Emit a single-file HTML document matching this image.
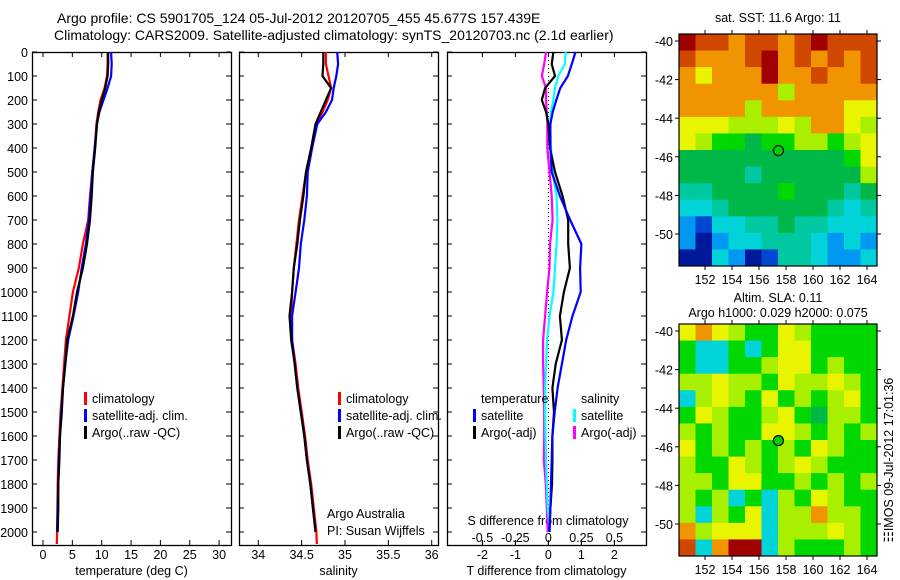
<!DOCTYPE html>
<html><head><meta charset="utf-8"><style>
body{margin:0;background:#fff;width:900px;height:580px;overflow:hidden}
svg{display:block;font-family:"Liberation Sans",sans-serif}
text{font-size:12.5px;fill:#000}
</style></head><body>
<svg id="s" width="900" height="580" xmlns="http://www.w3.org/2000/svg">
<text x="57" y="23" text-anchor="start" style="font-size:14px">Argo profile: CS 5901705_124 05-Jul-2012 20120705_455 45.677S 157.439E</text>
<text x="54" y="40" text-anchor="start" style="font-size:14px">Climatology: CARS2009. Satellite-adjusted climatology: synTS_20120703.nc (2.1d earlier)</text>
<g id="g"></g>
</svg>
<script>
const depths=[0,50,100,150,200,250,300,400,500,600,700,800,900,1000,1100,1200,1300,1400,1500,1600,1700,1800,1900,2000,2050];
const tempArgo=[11.1,11.1,11.0,10.6,10.0,9.5,9.2,8.9,8.5,8.3,8.0,7.5,6.8,5.8,5.1,4.1,3.8,3.4,3.2,2.9,2.8,2.6,2.6,2.5,null];
const tempClim=[11.0,11.0,10.9,10.5,9.8,9.4,9.1,8.8,8.4,8.0,7.7,6.8,6.1,5.1,4.5,3.9,3.6,3.3,3.0,2.8,2.6,2.5,2.45,2.4,2.35];
const tempSat=[11.6,11.7,11.6,11.0,10.3,9.6,9.2,8.8,8.4,8.1,7.8,7.3,6.6,6.0,5.2,4.3,3.8,3.4,3.1,2.9,2.7,2.6,2.5,2.4,null];
const salArgo=[34.75,34.75,34.74,34.84,34.78,34.72,34.66,34.61,34.55,34.52,34.48,34.45,34.41,34.39,34.36,34.38,34.42,34.45,34.49,34.53,34.56,34.60,34.63,34.66,null];
const salClim=[34.78,34.78,34.81,34.84,34.80,34.74,34.67,34.61,34.55,34.51,34.47,34.44,34.41,34.39,34.38,34.39,34.43,34.46,34.50,34.54,34.57,34.61,34.64,34.67,34.675];
const salSat=[34.91,34.92,34.90,34.87,34.85,34.78,34.68,34.62,34.57,34.56,34.53,34.49,34.47,34.43,34.39,34.39,34.42,34.45,34.49,34.53,34.56,34.60,34.63,34.66,null];
const dTsat=[0.82,0.71,0.59,0.36,0.24,0.13,0.06,0.06,0.1,0.35,0.66,1.0,0.96,0.98,0.73,0.54,0.41,0.28,0.19,0.12,0.1,0.08,0.06,0.03,null];
const dTargo=[0.15,0.1,0.2,-0.1,-0.2,-0.07,0,0.05,0.2,0.43,0.6,0.6,0.65,0.47,0.35,0.41,0.22,0.12,0.17,0.12,0.12,0.11,0.06,0.03,null];
const dSsat=[0.13,0.125,0.075,0.05,0.038,0.02,0.012,0.02,0.032,0.062,0.068,0.062,0.05,0.038,0.008,-0.01,-0.018,-0.025,-0.025,-0.022,-0.018,-0.012,-0.005,0.012,null];
const dSargo=[-0.018,-0.032,-0.05,-0.018,-0.018,-0.012,-0.008,-0.008,0.008,0.025,0.032,0.012,0.008,-0.01,-0.025,-0.04,-0.04,-0.035,-0.032,-0.032,-0.035,-0.02,-0.012,-0.005,null];
const sstGrid=["RrrorrorRrrr","rooorRororor","oyoooRooroor","oooooolooooo","ooooloooooyy","yyylllylooyl","ylggGggllgly","GGGGGGGGGGgy","GGGGcGGGGGGl","ccGGGGgGGGcG","CCcGGGGGGcCc","bBCCccGccCCC","bDbCCcccCbCb","DDCbDBccCbbC"];
const slaGrid=["yoylggylgggg","gCCgCgyygggg","gCCgglyyglgg","llyllgyllylg","Clylgyglglyg","gylgglygGllg","lglggyylglgl","yglglglgylgg","lggylglylggg","llgyygglglgl","lglCgClgylgg","lClgyCllollg","olyyyClllylg","rCoRRClggglg"];
const xTicksT=[0,5,10,15,20,25,30];
const xTicksS=[34,34.5,35,35.5,36];
const xTicksD=[-2,-1,0,1,2];
const xTicksDS=[-0.5,-0.25,0,0.25,0.5];
const yTicks=[0,100,200,300,400,500,600,700,800,900,1000,1100,1200,1300,1400,1500,1600,1700,1800,1900,2000];
const mapLon=[152,154,156,158,160,162,164];
const mapLat=[-40,-42,-44,-46,-48,-50];

const G=document.getElementById('g');const NS='http://www.w3.org/2000/svg';
function el(t,a,p){const e=document.createElementNS(NS,t);for(const k in a)e.setAttribute(k,a[k]);(p||G).appendChild(e);return e;}
function txt(x,y,s,anchor,name,p){const e=el('text',{x:x,y:y,'text-anchor':anchor||'middle'},p);e.textContent=s;

return e;}
const yTop=52,yBot=545;
const yS=d=>yTop+d*0.24;
function panel(name,x0,x1,xs,ticks,labelFmt,title,drawLeftLabels){
 const g=el('g',{});
 
 
 const r=el('rect',{x:x0+.5,y:yTop+.5,width:x1-x0,height:yBot-yTop,fill:'none',stroke:'#000','stroke-width':1.3},g);
 
 
 ticks.forEach(v=>{const x=xs(v);
  el('line',{x1:x,x2:x,y1:yBot,y2:yBot-5,stroke:'#000'},g);el('line',{x1:x,x2:x,y1:yTop,y2:yTop+5,stroke:'#000'},g);
  txt(x,559,labelFmt(v),'middle','x-tick-label',g);});
 yTicks.forEach(d=>{const y=yS(d);
  el('line',{x1:x0,x2:x0+5,y1:y,y2:y,stroke:'#000'},g);el('line',{x1:x1,x2:x1-5,y1:y,y2:y,stroke:'#000'},g);
  if(drawLeftLabels)txt(x0-4,y+5,String(d),'end','y-tick-label',g);});
 txt((x0+x1)/2,575,title,'middle','x-axis-title',g);
 return g;}
function line(g,xs,vals,color,name,dmax){let pts=[];vals.forEach((v,i)=>{if(v!==null&&depths[i]<=(dmax||3000))pts.push(xs(v).toFixed(1)+','+yS(depths[i]).toFixed(1));});
 const p=el('polyline',{points:pts.join(' '),fill:'none',stroke:color,'stroke-width':2.2},g);
 
 }
function legend(g,x,y,color,label,name){el('rect',{x:x,y:y-10,width:3,height:13,fill:color},g);
 const t=txt(x+8,y+1,label,'start',name,g);}
// panel 1
const xT=v=>43+v*5.87;
const p1=panel('temperature-panel',32,231,xT,xTicksT,v=>String(v),'temperature (deg C)',true);
line(p1,xT,tempClim,'#f00','temp-climatology-line');line(p1,xT,tempSat,'#00f','temp-satellite-line');line(p1,xT,tempArgo,'#000','temp-argo-line');
legend(p1,84,402,'#f00','climatology','legend-climatology');legend(p1,84,419,'#00f','satellite-adj. clim.','legend-satellite');legend(p1,84,436,'#000','Argo(..raw -QC)','legend-argo');
// panel 2
const xSal=v=>258.3+(v-34)*86.7;
const p2=panel('salinity-panel',239,438,xSal,xTicksS,v=>String(v),'salinity',false);
line(p2,xSal,salClim,'#f00','sal-climatology-line');line(p2,xSal,salSat,'#00f','sal-satellite-line');line(p2,xSal,salArgo,'#000','sal-argo-line');
legend(p2,338,402,'#f00','climatology','legend-climatology');legend(p2,338,419,'#00f','satellite-adj. clim.','legend-satellite');legend(p2,338,436,'#000','Argo(..raw -QC)','legend-argo');
txt(327,518,'Argo Australia','start','credit-argo-australia',p2);txt(327,535,'PI: Susan Wijffels','start','credit-pi',p2);
// panel 3
const xD=v=>548.4+v*33;const xDS=v=>xD(v*4);
const p3=panel('difference-panel',447,646,xD,xTicksD,v=>String(v),'T difference from climatology',false);
el('line',{x1:xD(0),x2:xD(0),y1:yTop,y2:yS(2000),stroke:'#000','stroke-dasharray':'1,3'},p3);
xTicksDS.forEach(v=>{el('line',{x1:xDS(v),x2:xDS(v),y1:yBot,y2:yBot-4,stroke:'#000'},p3);txt(xDS(v),542,String(v),'middle','s-tick-label',p3);});
txt(548,525,'S difference from climatology','middle','s-axis-title',p3);
line(p3,xDS,dSargo,'#f0f','dsal-argo-line');line(p3,xDS,dSsat,'#0ff','dsal-satellite-line');line(p3,xD,dTargo,'#000','dtemp-argo-line');line(p3,xD,dTsat,'#00f','dtemp-satellite-line');
txt(481,403,'temperature','start','legend-temperature-heading',p3);txt(581,403,'salinity','start','legend-salinity-heading',p3);
legend(p3,473,419,'#00f','satellite','legend-t-satellite');legend(p3,473,436,'#000','Argo(-adj)','legend-t-argo');
legend(p3,573,419,'#0ff','satellite','legend-s-satellite');legend(p3,573,436,'#f0f','Argo(-adj)','legend-s-argo');
// maps
const cmap={R:'#a00000',r:'#d04800',o:'#f09400',y:'#e8f400',l:'#a8f000',g:'#00d800',G:'#00b848',c:'#00c8a0',C:'#00d4d8',b:'#0098f0',B:'#0048d0',D:'#00189a'};
function map(name,y0,grid,titles,titleYs){const x0=679,x1=877,y1=y0+232;
 const g=el('g',{});
 
 
 const rows=grid.length,cols=12,cw=(x1-x0)/cols,ch=(y1-y0)/rows;
 grid.forEach((row,i)=>{for(let j=0;j<cols;j++){const c=row[j]||'g';
  const r=el('rect',{x:x0+j*cw,y:y0+i*ch,width:cw+.5,height:ch+.5,fill:cmap[c]||'#00d800'},g);
  
  }});
 el('rect',{x:x0,y:y0,width:x1-x0,height:y1-y0,fill:'none',stroke:'#000','stroke-width':1.2},g);
 const lx=v=>705+(v-152)*13.5,ly=v=>y0+7+(-40-v)*19.3;
 mapLon.forEach(v=>{el('line',{x1:lx(v),x2:lx(v),y1:y1,y2:y1+4,stroke:'#000'},g);el('line',{x1:lx(v),x2:lx(v),y1:y0,y2:y0-4,stroke:'#000'},g);txt(lx(v),y1+18,String(v),'middle','lon-tick-label',g);});
 mapLat.forEach(v=>{el('line',{x1:x0,x2:x0-4,y1:ly(v),y2:ly(v),stroke:'#000'},g);el('line',{x1:x1,x2:x1+4,y1:ly(v),y2:ly(v),stroke:'#000'},g);txt(673,ly(v)+5,String(v),'end','lat-tick-label',g);});
 const c=el('circle',{cx:lx(157.439),cy:ly(-45.677),r:5,fill:'#00d000',stroke:'#000','stroke-width':1.2},g);
 
 
 titles.forEach((t,i)=>txt(778,titleYs[i],t,'middle','map-title',g));}
map('sst-map',34,sstGrid,['sat. SST: 11.6 Argo: 11'],[22]);
map('sla-map',324,slaGrid,['Altim. SLA: 0.11','Argo h1000: 0.029 h2000: 0.075'],[302,317]);
const imos=txt(0,0,'\u2637IMOS 09-Jul-2012 17:01:36','middle','imos-timestamp');
imos.setAttribute('transform','translate(893,460) rotate(-90)');
</script>
</body></html>
